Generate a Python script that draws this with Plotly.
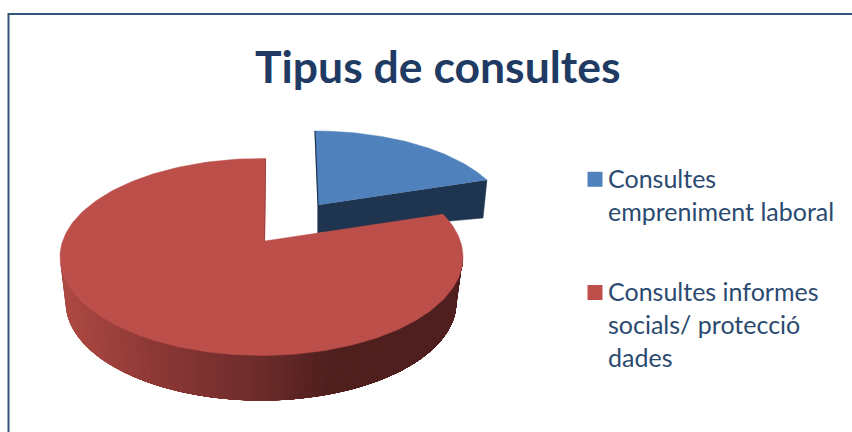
import math
import plotly.graph_objects as go

# Data
categories = ["Consultes emprenimient laboral", "Consultes informes socials/ protecció dades"]
values = [17.5, 82.5]
legend_lines = [["Consultes", "empreniment laboral"], ["Consultes informes", "socials/ protecció", "dades"]]
title = "Tipus de consultes"

# Styles / geometry (pixel space of the 852x432 canvas)
BLUE, BLUE_SIDE = "#4f81bd", "#1f344e"
RED, RED_EDGE = "#bd4f4b", "#a04440"
TXT_T, TXT_L = "#1f3b63", "#2b4a70"
FRAME = "#34557c"

W, H = 852, 432
red_top = dict(cx=261.5, cy=257, rx=201.5, ry=98.5)
red_low = dict(cx=261, cy=302, rx=195.5, ry=98.5)
red_apex = (265, 241)
red_start = 88.7
blue_top = dict(cx=315, cy=220.7, rx=193, ry=89.7)
blue_apex = (318, 205)
blue_apex_low = (318, 233)
blue_end_low = (483, 218)
blue_start = 90

def pt(e, deg):
    a = math.radians(deg)
    return e["cx"] + e["rx"] * math.cos(a), e["cy"] - e["ry"] * math.sin(a)

def arc(e, d0, d1, n=120):
    pts = [pt(e, d0 + (d1 - d0) * i / n) for i in range(n + 1)]
    return [p[0] for p in pts], [p[1] for p in pts]

total = sum(values)
sweep = 360 * values[0] / total  # clockwise sweep of the first slice

fig = go.Figure()

def poly(xs, ys, color, line=0.0, name=None):
    fig.add_trace(go.Scatter(x=xs, y=ys, mode="lines", fill="toself", fillcolor=color,
                             line=dict(color=color, width=line), hoverinfo="skip",
                             showlegend=False, name=name))

# Blue slice: side face then top
ex, ey = pt(blue_top, blue_start - sweep)
poly([blue_apex[0], ex, blue_end_low[0], blue_apex_low[0]],
     [blue_apex[1], ey, blue_end_low[1], blue_apex_low[1]], BLUE_SIDE, 0.5)
ax, ay = arc(blue_top, blue_start - sweep, blue_start)
poly(ax + [blue_apex[0]], ay + [blue_apex[1]], BLUE, 0.5, categories[0])
sx, sy = pt(blue_top, blue_start)
fig.add_trace(go.Scatter(x=[sx, blue_apex[0], blue_apex_low[0]], y=[sy, blue_apex[1], blue_apex_low[1]],
                         mode="lines", line=dict(color=BLUE_SIDE, width=1.2),
                         hoverinfo="skip", showlegend=False))

# Red slice: rim with horizontal gradient (each band overpaints the rest of the rim), then top
def rim_color(x):
    stops = [(66, (172, 72, 66)), (150, (140, 56, 54)), (261, (107, 43, 42)), (325, (79, 31, 30)), (460, (78, 31, 30))]
    for (x0, c0), (x1, c1) in zip(stops, stops[1:]):
        if x <= x1:
            f = max(0, (x - x0) / (x1 - x0))
            return "rgb(%d,%d,%d)" % tuple(round(a + (b - a) * f) for a, b in zip(c0, c1))
    return "rgb(78,31,30)"

N = 70
for i in range(N):
    d0 = 180 + 150 * i / N
    tx, ty = arc(red_top, d0, 360, 60)
    lx, ly = arc(red_low, 360, d0, 60)
    poly(tx + lx, ty + ly, rim_color(tx[0]), 0)

rx, ry = arc(red_top, red_start, red_start - sweep + 360, 240)
poly(rx + [red_apex[0]], ry + [red_apex[1]], RED, 0.5, categories[1])
fig.add_trace(go.Scatter(x=[red_apex[0] - 0.5, rx[0] - 0.5], y=[red_apex[1], ry[0] + 2], mode="lines",
                         line=dict(color=RED_EDGE, width=1), hoverinfo="skip", showlegend=False))

# Legend
marker_x = 595
text_x = 608
line_y = [[178, 211], [291, 324, 357]]
annotations = [dict(x=437.5, y=65, xref="x", yref="y", text=f"<b>{title}</b>", showarrow=False,
                    font=dict(family="Lato", size=44.5, color=TXT_T), xanchor="center", yanchor="middle")]
for color, lines, ys, my in zip([BLUE, RED], legend_lines, line_y, [179.3, 292.5]):
    fig.add_trace(go.Scatter(x=[marker_x], y=[my], mode="markers",
                             marker=dict(symbol="square", size=15, color=color),
                             hoverinfo="skip", showlegend=False))
    for t, y in zip(lines, ys):
        annotations.append(dict(x=text_x, y=y, xref="x", yref="y", text=t, showarrow=False,
                                font=dict(family="Lato", size=25, color=TXT_L),
                                xanchor="left", yanchor="middle", xshift=-2))

# Frame (left and top edges visible in this crop)
shapes = [dict(type="line", xref="x", yref="y", x0=8.5, y0=14, x1=852, y1=14, line=dict(color=FRAME, width=2)),
          dict(type="line", xref="x", yref="y", x0=8.5, y0=13, x1=8.5, y1=432, line=dict(color=FRAME, width=2))]

fig.update_layout(width=W, height=H, margin=dict(l=0, r=0, t=0, b=0), autosize=False,
                  paper_bgcolor="white", plot_bgcolor="white", showlegend=False,
                  xaxis=dict(range=[0, W], visible=False, fixedrange=True),
                  yaxis=dict(range=[H, 0], visible=False, fixedrange=True),
                  annotations=annotations, shapes=shapes)

fig.write_html("out.html", config={"displayModeBar": False},
               post_script="document.body.style.margin='0';document.body.style.overflow='hidden';")
